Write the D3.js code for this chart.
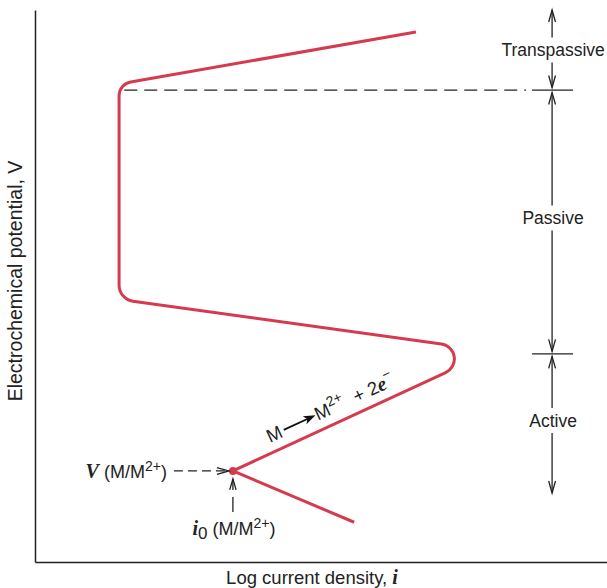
<!DOCTYPE html>
<html>
<head>
<meta charset="utf-8">
<script src="https://cdn.jsdelivr.net/npm/d3@7"></script>
<style>
  html, body { margin: 0; padding: 0; background: #fff; }
  svg { display: block; }
  text { font-family: "Liberation Sans", Arial, sans-serif; fill: #222; }
</style>
</head>
<body>
<script>
// ---- data (arbitrary units: log i on x, potential V on y, both 0..100) ----
const curveX = [66.6, 14.7, 14.7, 79.9, 34.6, 55.8];   // polarization curve vertices (log i)
const curveY = [96.0, 86.6, 47.6, 38.2, 16.5, 7.2];    // polarization curve vertices (V)
const eqPoint = { x: 34.6, y: 16.5 };                  // V(M/M2+), i0(M/M2+)
const passivationV = 85.5;                             // start of transpassive region
const passiveStartI = 15.6;                            // dashed line start (log i)
const regionNames = ["Transpassive", "Passive", "Active"];
const regionBounds = [100, 85.5, 37.7, 12.5];          // V boundaries of regions
const regionAxisI = 90.4;                              // log i position of region arrows

const W = 607, H = 588;
const x = d3.scaleLinear().domain([0, 100]).range([35, 607]);
const y = d3.scaleLinear().domain([0, 100]).range([562, 10]);

const svg = d3.select("body").append("svg").attr("width", W).attr("height", H);
const red = "#d53a4f", ink = "#222";

// axes (domain lines only)
svg.append("g").attr("transform", `translate(0,${y(0)})`)
  .call(d3.axisBottom(x).tickValues([]).tickSizeOuter(0))
  .call(g => g.select(".domain").attr("stroke", ink).attr("stroke-width", 1.5));
svg.append("g").attr("transform", `translate(${x(0)},0)`)
  .call(d3.axisLeft(y).tickValues([]).tickSizeOuter(0))
  .call(g => g.select(".domain").attr("stroke", ink).attr("stroke-width", 1.5));

// axis titles
svg.append("text").attr("x", 312).attr("y", 584).attr("text-anchor", "middle")
  .attr("font-size", 18.5)
  .call(t => {
    t.append("tspan").text("Log current density, ");
    t.append("tspan").text("i").style("font-family", "'Liberation Serif', serif")
      .attr("font-style", "italic").attr("font-weight", "bold").attr("font-size", 20);
  });
svg.append("text").attr("transform", "translate(22,281) rotate(-90)")
  .attr("text-anchor", "middle").attr("font-size", 19.5)
  .text("Electrochemical potential, V");

// passivation dashed line + region tick marks
svg.append("line")
  .attr("x1", x(passiveStartI)).attr("x2", x(regionAxisI) - 26)
  .attr("y1", y(passivationV)).attr("y2", y(passivationV))
  .attr("stroke", ink).attr("stroke-width", 1.3).attr("stroke-dasharray", "13,7");
regionBounds.slice(1, -1).forEach(v => {
  svg.append("line")
    .attr("x1", x(regionAxisI) - 20).attr("x2", x(regionAxisI) + 21)
    .attr("y1", y(v)).attr("y2", y(v))
    .attr("stroke", ink).attr("stroke-width", 1.2);
});

// region arrows + labels
function arrowHead(px, py, dir, len = 12, hw = 3.4) {
  let d;
  if (dir === "up") d = `M${px - hw},${py + len}L${px},${py}L${px + hw},${py + len}`;
  else if (dir === "down") d = `M${px - hw},${py - len}L${px},${py}L${px + hw},${py - len}`;
  else d = `M${px - len},${py - hw}L${px},${py}L${px - len},${py + hw}`;
  svg.append("path").attr("d", d).attr("fill", "none").attr("stroke", ink).attr("stroke-width", 1.3);
}
const ax = x(regionAxisI);
const labelOffsets = [0, -4, -3];
regionNames.forEach((name, i) => {
  const top = y(regionBounds[i]) + (i === 0 ? 0 : 2.5);
  const bot = y(regionBounds[i + 1]) - (i === regionNames.length - 1 ? 0 : 2.5);
  const mid = (y(regionBounds[i]) + y(regionBounds[i + 1])) / 2 + labelOffsets[i];
  const gap = 12.5;
  svg.append("line").attr("x1", ax).attr("x2", ax).attr("y1", top).attr("y2", mid - gap)
    .attr("stroke", ink).attr("stroke-width", 1.3);
  svg.append("line").attr("x1", ax).attr("x2", ax).attr("y1", mid + gap).attr("y2", bot)
    .attr("stroke", ink).attr("stroke-width", 1.3);
  arrowHead(ax, top, "up");
  arrowHead(ax, bot, "down");
  svg.append("text").attr("x", ax + 1).attr("y", mid).attr("dy", "0.35em")
    .attr("text-anchor", "middle").attr("font-size", 17.5).text(name);
});

// polarization curve with rounded corners
const radii = [0, 14, 16, 15, 0, 0];
const pts = curveX.map((v, i) => [x(v), y(curveY[i])]);
const p = d3.path();
p.moveTo(pts[0][0], pts[0][1]);
for (let i = 1; i < pts.length - 1; i++) {
  if (radii[i] > 0) p.arcTo(pts[i][0], pts[i][1], pts[i + 1][0], pts[i + 1][1], radii[i]);
  else p.lineTo(pts[i][0], pts[i][1]);
}
p.lineTo(pts[pts.length - 1][0], pts[pts.length - 1][1]);
svg.append("path").attr("d", p.toString()).attr("fill", "none")
  .attr("stroke", red).attr("stroke-width", 3).attr("stroke-linejoin", "round");

// equilibrium point
const ex = x(eqPoint.x), ey = y(eqPoint.y);
svg.append("circle").attr("cx", ex).attr("cy", ey).attr("r", 4).attr("fill", red);

// V(M/M2+) dashed arrow
svg.append("line").attr("x1", ex - 59).attr("x2", ex - 4).attr("y1", ey).attr("y2", ey)
  .attr("stroke", ink).attr("stroke-width", 1.3).attr("stroke-dasharray", "9,5");
arrowHead(ex - 4, ey, "right");
svg.append("text").attr("x", ex - 66).attr("y", ey + 7).attr("text-anchor", "end")
  .attr("font-size", 18)
  .call(t => {
    t.append("tspan").text("V").style("font-family", "'Liberation Serif', serif")
      .attr("font-style", "italic").attr("font-weight", "bold").attr("font-size", 20);
    t.append("tspan").text(" (M/M");
    t.append("tspan").text("2+").attr("font-size", 14).attr("dy", -7);
    t.append("tspan").text(")").attr("dy", 7);
  });

// i0(M/M2+) dashed arrow
svg.append("line").attr("x1", ex).attr("x2", ex).attr("y1", ey + 41).attr("y2", ey + 8)
  .attr("stroke", ink).attr("stroke-width", 1.3).attr("stroke-dasharray", "15,7");
arrowHead(ex, ey + 8, "up", 11, 3.2);
svg.append("text").attr("x", ex + 1).attr("y", ey + 64).attr("text-anchor", "middle")
  .attr("font-size", 18)
  .call(t => {
    t.append("tspan").text("i").style("font-family", "'Liberation Serif', serif")
      .attr("font-style", "italic").attr("font-weight", "bold").attr("font-size", 20);
    t.append("tspan").text("0").attr("font-size", 17).attr("dy", 4);
    t.append("tspan").text(" (M/M").attr("dy", -4);
    t.append("tspan").text("2+").attr("font-size", 14).attr("dy", -7);
    t.append("tspan").text(")").attr("dy", 7);
  });

// reaction label along the active branch
const ang = Math.atan2(pts[3][1] - pts[4][1], pts[3][0] - pts[4][0]) * 180 / Math.PI;
const rg = svg.append("g").attr("transform", `translate(${ex + 37},${ey - 28}) rotate(${ang})`);
rg.append("text").attr("x", 0).attr("y", 0).attr("font-size", 18.5).text("M");
rg.append("line").attr("x1", 18).attr("x2", 47).attr("y1", -6).attr("y2", -6)
  .attr("stroke", "#111").attr("stroke-width", 1.8);
rg.append("path").attr("d", "M53,-6L41,-10.5L44,-6L41,-1.5Z").attr("fill", "#111");
rg.append("text").attr("x", 53).attr("y", 0).attr("font-size", 18.5)
  .call(t => {
    t.append("tspan").text("M");
    t.append("tspan").text("2+").attr("font-size", 14).attr("dy", -8);
    t.append("tspan").text("+ 2").attr("dy", 8).attr("dx", 11);
    t.append("tspan").text("e").style("font-family", "'Liberation Serif', serif")
      .attr("font-style", "italic").attr("font-weight", "bold").attr("font-size", 20);
    t.append("tspan").text("\u2212").attr("font-size", 14).attr("dy", -9);
  });
</script>
</body>
</html>
